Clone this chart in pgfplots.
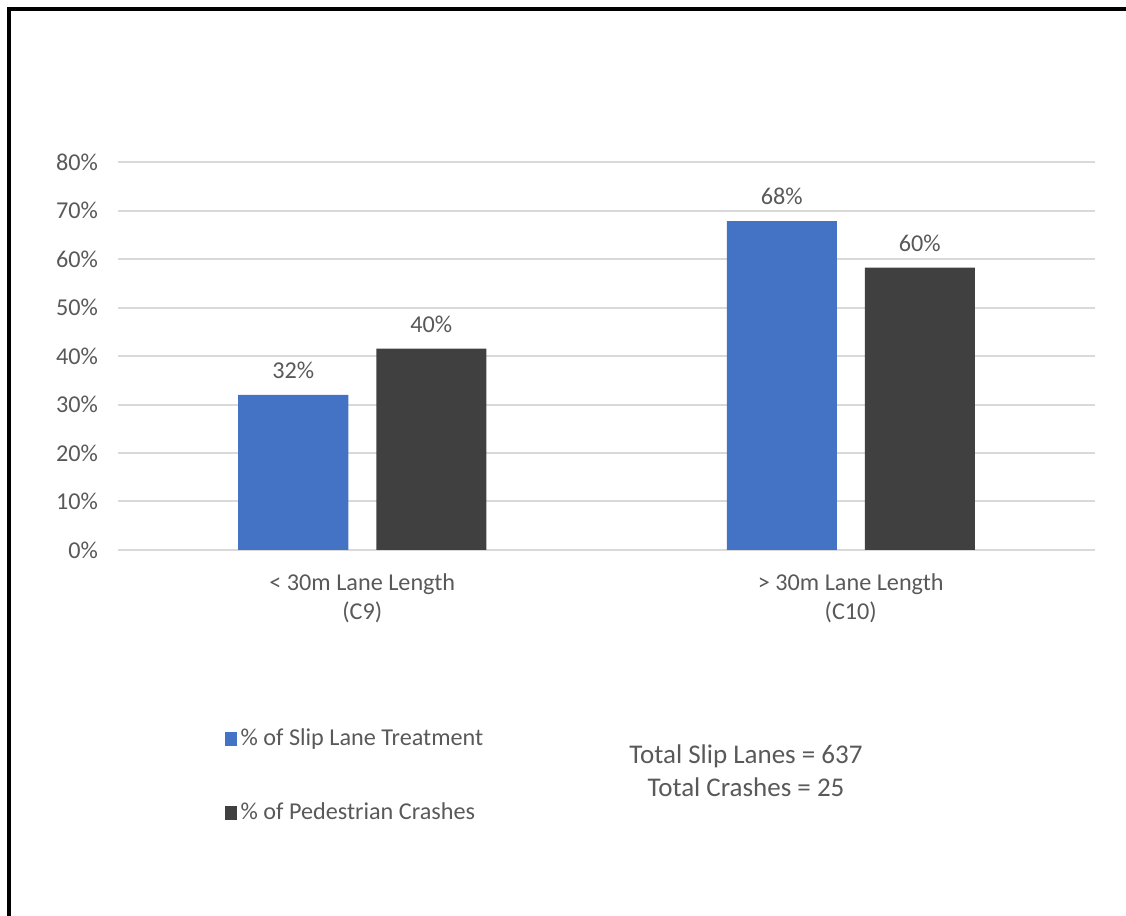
\documentclass[border=0pt]{standalone}
\usepackage{fontspec}
\setmainfont{Carlito}
\usepackage{pgfplots}
\pgfplotsset{compat=1.18}
\definecolor{sblue}{HTML}{4472C4}
\definecolor{sdark}{HTML}{404040}
\definecolor{txt}{HTML}{595959}
\definecolor{gridc}{HTML}{D9D9D9}
\newcommand{\fs}{\fontsize{12.1}{14.5}\selectfont}
\newcommand{\fl}{\fontsize{13.5}{16.5}\selectfont}
\begin{document}
\begin{tikzpicture}
\path[use as bounding box] (0pt,0pt) rectangle (563pt,458pt);
\draw[line width=2pt] (4.5pt,0pt) -- (4.5pt,453.5pt) -- (563pt,453.5pt);
\begin{axis}[
  at={(59pt,183pt)}, anchor=south west,
  scale only axis, width=488.5pt, height=194pt,
  xmin=-0.5, xmax=1.5, ymin=0, ymax=80,
  ytick={0,10,...,80},
  yticklabels={0\%,10\%,20\%,30\%,40\%,50\%,60\%,70\%,80\%},
  xtick={0,1},
  xticklabels={{< 30m Lane Length\\(C9)},{> 30m Lane Length\\(C10)}},
  xticklabel style={align=center, font=\fs, text=txt, yshift=-4pt},
  yticklabel style={font=\fs, text=txt, xshift=-6.5pt},
  axis line style={draw=none},
  tick style={draw=none},
  ymajorgrids, grid style={gridc, line width=1pt},
  ybar=14pt, bar width=55pt,
  nodes near coords, point meta=explicit symbolic,
  nodes near coords style={font=\fs, text=txt, yshift=4.5pt},
  legend style={at={(0.1026,-0.44)}, anchor=north west, draw=none, fill=none,
    font=\fs, text=txt, row sep=23pt, legend cell align=left},
  legend image code/.code={\fill[#1] (0pt,-3.5pt) rectangle (6pt,3.5pt);},
]
\addplot[fill=sblue, draw=none] coordinates {(0,32) [32\%] (1,67.8) [68\%]};
\addplot[fill=sdark, draw=none] coordinates {(0,41.5) [40\%] (1,58.2) [60\%]};
\legend{\% of Slip Lane Treatment, \% of Pedestrian Crashes}
\end{axis}
\node[font=\fl, text=txt, align=center] at (373pt,72.5pt) {Total Slip Lanes = 637\\Total Crashes = 25};
\end{tikzpicture}
\end{document}
